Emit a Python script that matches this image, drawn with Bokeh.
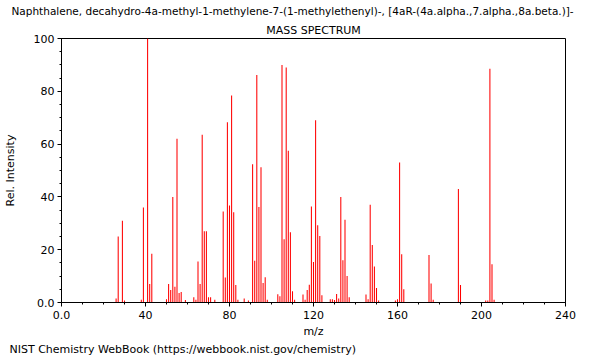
from bokeh.plotting import figure
from bokeh.models import FixedTicker, Range1d, Title, ColumnDataSource
from bokeh.embed import file_html
from bokeh.resources import INLINE

title_main = "Naphthalene, decahydro-4a-methyl-1-methylene-7-(1-methylethenyl)-, [4aR-(4a.alpha.,7.alpha.,8a.beta.)]-"
title_sub = "MASS SPECTRUM"
footer = "NIST Chemistry WebBook (https://webbook.nist.gov/chemistry)"

mz = [26, 27, 29, 30, 38, 39, 41, 42, 43, 50, 51, 52, 53, 54, 55, 56, 57, 59,
      63, 64, 65, 66, 67, 68, 69, 70, 71, 73, 77, 78, 79, 80, 81, 82, 83, 84,
      87, 89, 91, 92, 93, 94, 95, 96, 97, 98, 103, 104, 105, 106, 107, 108,
      109, 110, 111, 115, 116, 117, 118, 119, 120, 121, 122, 123, 124, 128,
      129, 130, 131, 132, 133, 134, 135, 136, 137, 145, 146, 147, 148, 149,
      150, 151, 159, 160, 161, 162, 163, 175, 176, 177, 189, 190, 202, 203,
      204, 205, 206]
intensity = [1.5, 25, 31, 0.8, 1, 36, 100, 7, 18.5, 1.2, 7, 4.7, 40, 6, 62, 3.6, 4, 0.9,
             2, 1, 15.5, 7, 63.5, 27, 27, 2, 2, 1, 34.5, 9.5, 68.3, 36.7, 78.4, 34.2, 6.6, 1,
             1.5, 0.8, 52.4, 15.8, 86.2, 36.2, 51.2, 7.4, 9.6, 1, 3.1, 2.4, 90, 24, 89, 57.5,
             26.6, 4.3, 1, 3, 1, 4.7, 6.7, 36.4, 15.3, 69, 29.3, 25.2, 2.7, 1.2,
             1.2, 0.9, 3.2, 1.5, 40, 16, 31.3, 10, 2, 3, 1.2, 37, 21.8, 13.6,
             5.5, 0.8, 0.8, 1.2, 53, 18.3, 5, 18, 7.2, 1, 43, 6.6, 0.8, 0.8,
             88.5, 14.5, 1]

x_ticks = [0, 40, 80, 120, 160, 200, 240]
x_minor = [v for v in range(0, 241, 10)]
y_ticks = [0, 20, 40, 60, 80, 100]
y_minor = [v for v in range(0, 101, 5)]

FONT = "DejaVu Sans"

p = figure(frame_width=504, frame_height=264, output_backend="svg", toolbar_location=None,
           x_range=Range1d(0, 240), y_range=Range1d(0, 100),
           min_border_left=54, min_border_right=26, min_border_top=31, min_border_bottom=48)
p.title.visible = False
p.grid.visible = False
p.outline_line_color = "black"
p.outline_line_alpha = 1.0

src = ColumnDataSource(dict(mz=mz, inten=intensity))
p.vbar(x="mz", top="inten", bottom=0, width=0.5, source=src,
       fill_color="#ff0000", line_color=None)

p.xaxis.ticker = FixedTicker(ticks=x_ticks, minor_ticks=x_minor)
p.yaxis.ticker = FixedTicker(ticks=y_ticks, minor_ticks=y_minor)
p.xaxis.major_label_overrides = {0: "0.0"}
p.yaxis.major_label_overrides = {0: "0.0"}

for ax in (p.xaxis[0], p.yaxis[0]):
    ax.axis_line_color = "black"
    ax.major_tick_line_color = "black"
    ax.minor_tick_line_color = "black"
    ax.major_tick_out = 4
    ax.major_tick_in = 0
    ax.minor_tick_out = 2
    ax.minor_tick_in = 0
    ax.major_label_text_font = FONT
    ax.major_label_text_font_size = "11px"
    ax.major_label_text_color = "black"
    ax.axis_label_text_font = FONT
    ax.axis_label_text_font_size = "11px"
    ax.axis_label_text_font_style = "normal"
    ax.axis_label_text_color = "black"

p.xaxis.axis_label = "m/z"
p.yaxis.axis_label = "Rel. Intensity"
p.xaxis.major_label_standoff = 4
p.xaxis.axis_label_standoff = 3
p.yaxis.major_label_standoff = 3
p.yaxis.axis_label_standoff = 14

p.add_layout(Title(text=title_sub, align="center", text_font=FONT, text_font_size="11px",
                   text_font_style="normal", text_color="black", standoff=4), "above")
p.add_layout(Title(text=title_main, align="left", offset=-50, text_font=FONT,
                   text_font_size="10.5px", text_font_style="normal", text_color="black",
                   standoff=5), "above")

p.add_layout(Title(text=footer, align="left", offset=-52, text_font=FONT,
                   text_font_size="11px", text_font_style="normal", text_color="black",
                   standoff=0), "below")

open("out.html", "w").write(file_html(p, INLINE))
